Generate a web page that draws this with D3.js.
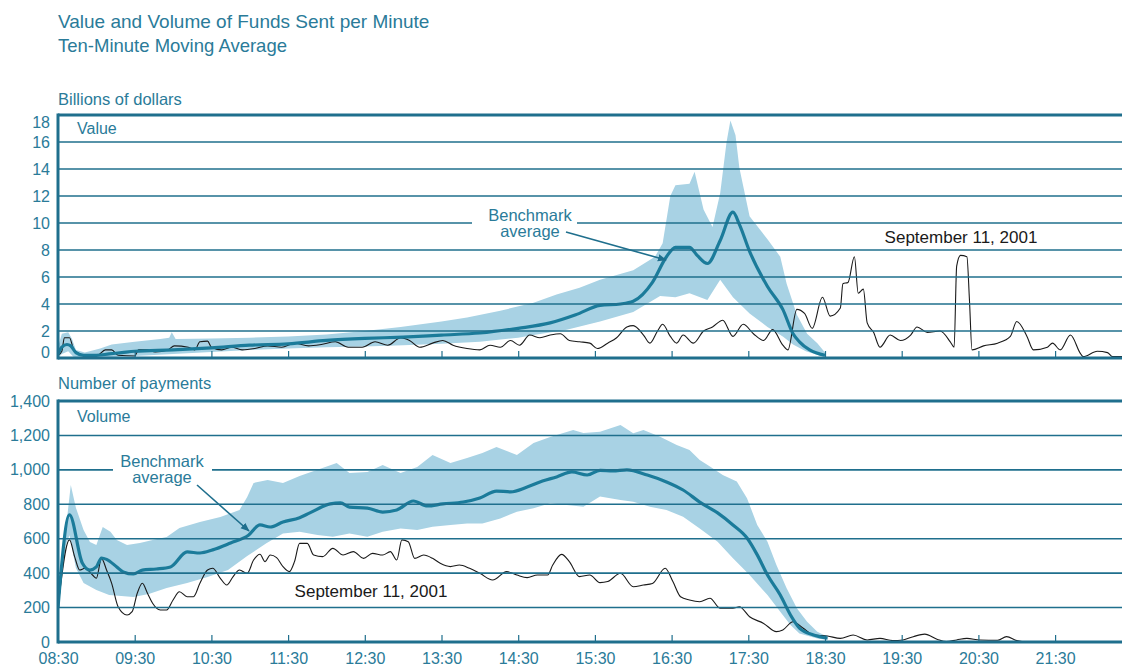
<!DOCTYPE html>
<html><head><meta charset="utf-8">
<script src="https://cdn.jsdelivr.net/npm/d3@7"></script>
<style>
body{margin:0;background:#fff;}
svg{display:block;}
text{font-family:"Liberation Sans",Arial,Helvetica,sans-serif;}
</style>
</head><body>
<svg id="c" width="1122" height="669"></svg>
<script>
// ---------- DATA ----------
const xTickLabels = ["08:30","09:30","10:30","11:30","12:30","13:30","14:30","15:30","16:30","17:30","18:30","19:30","20:30","21:30"];
const valueTicks = [0,2,4,6,8,10,12,14,16,18];
const volumeTicks = [0,200,400,600,800,1000,1200,1400];

// Value panel (billions of dollars)
const valueBenchmark = [["08:30",0.3],["08:33",0.8],["08:37",1.0],["08:40",0.9],["08:44",0.4],["08:50",0.2],["09:00",0.2],["09:10",0.3],["09:20",0.4],["09:30",0.5],["10:00",0.6],["10:30",0.75],["11:00",0.95],["11:30",1.05],["12:00",1.3],["12:30",1.45],["13:00",1.55],["13:30",1.7],["14:00",1.85],["14:30",2.2],["14:55",2.6],["15:15",3.2],["15:34",3.9],["15:50",4.0],["16:00",4.2],["16:15",5.6],["16:26",7.5],["16:33",8.2],["16:44",8.2],["16:50",7.6],["16:58",7.0],["17:08",8.7],["17:18",10.8],["17:23",9.9],["17:31",7.9],["17:45",5.3],["17:57",3.6],["18:05",1.8],["18:10",1.2],["18:18",0.6],["18:30",0.2]];
const valueBandUpper = [["08:30",0.8],["08:33",1.8],["08:38",1.9],["08:41",1.4],["08:44",0.6],["08:51",0.4],["09:03",0.7],["09:12",1.0],["09:30",1.2],["09:50",1.4],["09:57",1.5],["09:59",1.9],["10:02",1.4],["10:30",1.45],["11:00",1.5],["11:30",1.6],["12:00",1.75],["12:30",2.0],["12:58",2.3],["13:30",2.7],["13:50",3.0],["14:16",3.5],["14:42",4.1],["15:00",4.7],["15:18",5.2],["15:34",5.8],["16:00",6.5],["16:17",7.5],["16:23",8.5],["16:29",12.0],["16:33",12.8],["16:44",12.9],["16:48",13.8],["16:55",11.0],["17:02",9.7],["17:08",12.2],["17:13",16.0],["17:16",17.6],["17:20",16.5],["17:23",14.1],["17:31",10.5],["17:45",8.8],["17:55",7.5],["18:00",5.5],["18:08",3.2],["18:16",1.8],["18:24",1.1],["18:30",0.4]];
const valueBandLower = [["08:30",0.0],["08:33",0.3],["08:38",0.5],["08:42",0.1],["08:50",0.0],["09:30",0.15],["10:00",0.3],["10:30",0.45],["11:00",0.6],["11:30",0.7],["12:00",0.8],["12:30",0.85],["13:00",0.95],["13:30",1.05],["14:00",1.2],["14:30",1.5],["14:42",1.7],["15:08",2.1],["15:34",2.7],["16:00",3.4],["16:21",4.6],["16:33",4.5],["16:44",4.8],["16:58",4.3],["17:08",5.8],["17:18",4.5],["17:31",3.3],["17:45",2.3],["17:57",1.6],["18:05",1.0],["18:15",0.5],["18:30",0.05]];
const valueSept11 = [["08:30",0.2],["08:33",0.5],["08:35",1.5],["08:39",1.5],["08:42",0.7],["08:46",0.35],["08:53",0.15],["09:01",0.2],["09:07",0.6],["09:12",0.6],["09:17",0.2],["09:30",0.15],["09:33",0.6],["09:40",0.6],["09:46",0.45],["09:56",0.6],["10:01",0.9],["10:12",0.8],["10:17",0.6],["10:21",1.2],["10:27",1.25],["10:30",0.8],["10:38",0.6],["10:46",0.8],["10:54",0.6],["11:04",0.7],["11:14",0.9],["11:25",0.8],["11:35",1.1],["11:46",0.9],["11:56",1.0],["12:07",1.2],["12:17",0.8],["12:28",0.8],["12:38",1.2],["12:48",0.95],["12:58",1.5],["13:05",1.3],["13:13",0.8],["13:23",1.1],["13:31",1.3],["13:39",0.95],["13:50",0.7],["14:00",0.6],["14:08",0.95],["14:16",0.8],["14:24",1.3],["14:31",0.95],["14:39",1.7],["14:47",1.5],["14:55",1.7],["15:03",1.8],["15:10",1.3],["15:18",1.2],["15:26",1.1],["15:32",0.7],["15:40",1.1],["15:47",1.5],["15:55",2.3],["16:00",2.4],["16:08",1.7],["16:13",1.1],["16:19",2.0],["16:23",2.5],["16:29",1.6],["16:34",1.1],["16:39",1.7],["16:47",1.1],["16:55",2.0],["17:02",2.3],["17:10",2.8],["17:18",1.6],["17:26",2.5],["17:34",1.8],["17:42",1.3],["17:49",2.1],["17:57",0.95],["18:01",0.6],["18:08",3.6],["18:14",3.3],["18:20",2.2],["18:28",4.5],["18:34",3.1],["18:42",3.7],["18:44",5.5],["18:48",5.6],["18:53",7.5],["18:56",4.8],["19:00",5.1],["19:03",2.6],["19:08",1.9],["19:13",0.8],["19:21",1.7],["19:29",1.3],["19:37",1.7],["19:42",2.3],["19:50",1.9],["20:00",2.0],["20:08",1.2],["20:11",0.8],["20:13",6.8],["20:16",7.6],["20:21",7.5],["20:23",4.3],["20:25",0.6],["20:34",0.9],["20:45",1.1],["20:55",1.6],["21:00",2.7],["21:08",1.6],["21:13",0.6],["21:24",0.8],["21:28",1.1],["21:34",0.6],["21:42",1.7],["21:50",0.3],["21:52",0.1],["22:03",0.5],["22:11",0.4],["22:15",0.1],["22:25",0.1]];

// Volume panel (number of payments)
const volumeBenchmark = [["08:30",200],["08:39",738],["08:49",459],["08:55",418],["09:00",436],["09:04",488],["09:08",480],["09:16",436],["09:21",407],["09:29",395],["09:36",418],["09:47",424],["09:58",436],["10:11",523],["10:21",517],["10:31",535],["10:45",575],["10:59",620],["11:08",680],["11:16",668],["11:26",697],["11:39",722],["11:47",750],["12:03",802],["12:11",808],["12:18",784],["12:32",778],["12:44",755],["12:55",767],["13:08",819],["13:19",790],["13:31",802],["13:47",813],["14:00",837],["14:13",877],["14:24",872],["14:37",900],["14:49",935],["15:00",959],["15:12",988],["15:24",970],["15:34",997],["15:44",994],["15:55",1000],["16:11",970],["16:26",930],["16:39",883],["16:52",813],["17:06",750],["17:18",680],["17:29",604],["17:37",506],["17:45",389],["17:55",273],["18:03",157],["18:10",81],["18:21",41],["18:32",23]];
const volumeBandUpper = [["08:30",250],["08:40",912],["08:44",780],["08:50",650],["08:55",581],["09:00",564],["09:05",668],["09:11",640],["09:16",593],["09:24",564],["09:34",575],["09:44",593],["09:55",610],["10:05",662],["10:21",697],["10:37",726],["10:52",767],["10:58",843],["11:03",924],["11:14",941],["11:26",924],["11:39",965],["11:53",1000],["12:08",1040],["12:18",982],["12:32",988],["12:44",1028],["12:58",982],["13:11",1017],["13:23",1086],["13:37",1040],["13:50",1069],["14:02",1098],["14:13",1133],["14:29",1086],["14:42",1156],["14:55",1191],["15:13",1232],["15:21",1214],["15:34",1222],["15:50",1261],["16:00",1212],["16:08",1232],["16:21",1193],["16:34",1145],["16:44",1116],["16:52",1057],["17:00",1019],["17:10",970],["17:21",932],["17:29",835],["17:37",680],["17:45",583],["17:52",447],["18:00",312],["18:08",196],["18:16",118],["18:24",60],["18:32",31]];
const volumeBandLower = [["08:30",180],["08:36",560],["08:39",620],["08:44",430],["08:50",343],["09:00",302],["09:10",273],["09:29",262],["09:41",279],["09:55",314],["10:11",343],["10:27",378],["10:43",418],["10:58",500],["11:13",573],["11:26",631],["11:39",641],["11:53",622],["12:05",612],["12:18",631],["12:32",612],["12:44",641],["12:58",660],["13:11",651],["13:23",670],["13:37",680],["13:50",689],["14:02",689],["14:16",718],["14:29",757],["14:42",777],["14:55",806],["15:08",796],["15:21",786],["15:34",845],["15:50",825],["16:00",815],["16:13",786],["16:26",767],["16:39",728],["16:52",660],["17:06",583],["17:18",486],["17:31",389],["17:45",273],["17:55",176],["18:03",99],["18:10",50],["18:24",21],["18:32",12]];
const volumeSept11 = [["08:30",200],["08:39",593],["08:43",496],["08:47",418],["08:51",428],["08:57",389],["09:00",370],["09:04",486],["09:08",418],["09:12",341],["09:17",205],["09:24",157],["09:28",176],["09:32",283],["09:36",341],["09:40",283],["09:44",225],["09:50",186],["09:55",186],["10:00",244],["10:05",292],["10:11",263],["10:16",263],["10:21",341],["10:27",418],["10:31",428],["10:37",370],["10:42",331],["10:47",380],["10:52",418],["10:58",399],["11:03",476],["11:08",510],["11:12",467],["11:16",505],["11:21",490],["11:26",438],["11:31",409],["11:35",467],["11:39",573],["11:45",573],["11:50",505],["11:57",496],["12:05",544],["12:13",505],["12:21",525],["12:29",486],["12:36",515],["12:44",505],["12:50",525],["12:55",476],["12:59",593],["13:04",583],["13:09",486],["13:16",505],["13:23",486],["13:29",457],["13:37",438],["13:44",447],["13:52",428],["14:00",399],["14:10",360],["14:21",409],["14:29",389],["14:37",374],["14:45",389],["14:53",389],["14:57",447],["15:04",509],["15:10",467],["15:18",380],["15:26",389],["15:34",345],["15:40",351],["15:50",399],["16:00",321],["16:08",331],["16:15",340],["16:25",428],["16:31",351],["16:37",263],["16:44",244],["16:52",234],["17:00",254],["17:08",196],["17:18",196],["17:23",205],["17:31",147],["17:42",108],["17:52",60],["17:57",70],["18:05",118],["18:13",80],["18:21",41],["18:32",35],["18:42",21],["18:52",41],["19:03",12],["19:13",21],["19:23",8],["19:31",12],["19:39",31],["19:48",46],["19:58",15],["20:05",2],["20:13",12],["20:21",21],["20:31",12],["20:45",10],["20:52",31],["21:00",8],["21:08",0],["22:25",0]];

// ---------- DRAW ----------
const W = 1122, H = 669;
const TEAL = "#1f6f8d", TEXT = "#2a7b99", BAND = "#a8d2e4", BENCH = "#1b7b9a", BLACK = "#1a1a1a";
const svg = d3.select("#c");
const toMin = s => { const p = s.split(":").map(Number); return p[0]*60 + p[1]; };
const left = 58;
const x = d3.scaleLinear().domain([toMin("08:30"), toMin("22:30")]).range([left, left + 14*76.7]);

const yV = d3.scaleLinear().domain([0,18]).range([358,115]);
const yN = d3.scaleLinear().domain([0,1400]).range([642,401]);

svg.append("text").attr("x",left).attr("y",28).attr("fill",TEXT).attr("font-size",19).text("Value and Volume of Funds Sent per Minute");
svg.append("text").attr("x",left).attr("y",52).attr("fill",TEXT).attr("font-size",18.5).text("Ten-Minute Moving Average");

const defs = svg.append("defs");
defs.append("marker").attr("id","arr").attr("viewBox","0 0 10 10").attr("refX",9).attr("refY",5)
  .attr("markerWidth",9).attr("markerHeight",9).attr("markerUnits","userSpaceOnUse").attr("orient","auto")
  .append("path").attr("d","M0,1 L10,5 L0,9 Z").attr("fill",TEAL);

function panel(id, y, ticks, fmt, upper, lower, bench, sept, unitLabel, unitY, panelLabel, panelY, showLabels) {
  const y0 = y.range()[0], y1 = y.range()[1];
  defs.append("clipPath").attr("id","clip"+id).append("rect")
    .attr("x",left).attr("y",y1).attr("width",W-left).attr("height",y0-y1);
  const g = svg.append("g");
  const pg = g.append("g").attr("clip-path","url(#clip"+id+")");

  // band polygon
  const pts = upper.map(d => [x(toMin(d[0])), y(d[1])])
    .concat(lower.slice().reverse().map(d => [x(toMin(d[0])), y(d[1])]));
  pg.append("path").attr("d", d3.line().curve(d3.curveLinear)(pts) + "Z").attr("fill",BAND);

  // gridlines
  const ax = d3.axisLeft(y).tickValues(ticks).tickSize(0).tickPadding(0).tickFormat(fmt);
  const axG = g.append("g").attr("transform",`translate(${left},0)`).call(ax);
  axG.select(".domain").remove();
  axG.selectAll("text").attr("x",-8).attr("fill",TEXT).attr("font-size",16)
    .attr("font-family","'Liberation Sans',Arial,sans-serif");
  axG.selectAll(".tick line").remove();
  if (id === "v") {
    axG.selectAll(".tick").filter(d => d === 0).select("text").attr("dy","-0.05em");
    axG.selectAll(".tick").filter(d => d === 18).select("text").attr("dy","0.75em");
  }
  const grid = g.append("g");
  grid.selectAll("line").data(ticks.filter(t => t !== 0 && t !== ticks[ticks.length-1])).join("line")
    .attr("x1",left).attr("x2",W).attr("y1",d => y(d)).attr("y2",d => y(d))
    .attr("stroke",TEAL).attr("stroke-width",1.6);

  // frame
  g.append("line").attr("x1",left).attr("x2",W).attr("y1",y1).attr("y2",y1).attr("stroke",TEAL).attr("stroke-width",3);
  g.append("line").attr("x1",left).attr("x2",W).attr("y1",y0).attr("y2",y0).attr("stroke",TEAL).attr("stroke-width",3.2);
  g.append("line").attr("x1",left).attr("x2",left).attr("y1",y1-1.5).attr("y2",y0+1.5).attr("stroke",TEAL).attr("stroke-width",3);

  // x ticks
  const xa = d3.axisBottom(x).tickValues(xTickLabels.map(toMin)).tickSize(-6).tickPadding(12)
    .tickFormat((d,i) => showLabels ? xTickLabels[i] : "");
  const xg = g.append("g").attr("transform",`translate(0,${y0-1})`).call(xa);
  xg.select(".domain").remove();
  xg.selectAll(".tick line").attr("stroke",TEAL).attr("stroke-width",1.2);
  xg.selectAll(".tick").filter((d,i) => i === 0).select("line").remove();
  xg.selectAll("text").attr("fill",TEXT).attr("font-size",16).attr("font-family","'Liberation Sans',Arial,sans-serif");

  // lines
  const line = d3.line().x(d => x(toMin(d[0]))).y(d => y(d[1])).curve(d3.curveMonotoneX);
  pg.append("path").datum(sept).attr("d",line).attr("fill","none").attr("stroke",BLACK).attr("stroke-width",1.1);
  pg.append("path").datum(bench).attr("d",line).attr("fill","none").attr("stroke",BENCH).attr("stroke-width",3.2).attr("stroke-linejoin","round");

  svg.append("text").attr("x",left).attr("y",unitY).attr("fill",TEXT).attr("font-size",16.5).text(unitLabel);
  svg.append("text").attr("x",77).attr("y",panelY).attr("fill",TEXT).attr("font-size",16).text(panelLabel);
  return g;
}

const gV = panel("v", yV, valueTicks, d => d3.format(",")(d), valueBandUpper, valueBandLower, valueBenchmark, valueSept11,
  "Billions of dollars", 105, "Value", 134, false);
const gN = panel("n", yN, volumeTicks, d => d3.format(",")(d), volumeBandUpper, volumeBandLower, volumeBenchmark, volumeSept11,
  "Number of payments", 389, "Volume", 422, true);

function annot(cx, y1, y2, rect, from, to) {
  svg.append("rect").attr("x",rect[0]).attr("y",rect[1]).attr("width",rect[2]).attr("height",rect[3]).attr("fill","#fff");
  svg.append("text").attr("x",cx).attr("y",y1).attr("text-anchor","middle").attr("fill",TEXT).attr("font-size",16.5).text("Benchmark");
  svg.append("text").attr("x",cx).attr("y",y2).attr("text-anchor","middle").attr("fill",TEXT).attr("font-size",16.5).text("average");
  svg.append("line").attr("x1",from[0]).attr("y1",from[1]).attr("x2",to[0]).attr("y2",to[1])
    .attr("stroke",TEAL).attr("stroke-width",1.6).attr("marker-end","url(#arr)");
}
annot(530, 221, 237, [472, 206, 105, 20], [566, 232], [666, 260]);
annot(162, 467, 483, [113, 452, 99, 20], [197, 485], [249, 531]);

svg.append("text").attr("x",961).attr("y",243).attr("text-anchor","middle").attr("fill",BLACK).attr("font-size",17).text("September 11, 2001");
svg.append("text").attr("x",371).attr("y",597).attr("text-anchor","middle").attr("fill",BLACK).attr("font-size",17).text("September 11, 2001");
</script>
</body></html>
